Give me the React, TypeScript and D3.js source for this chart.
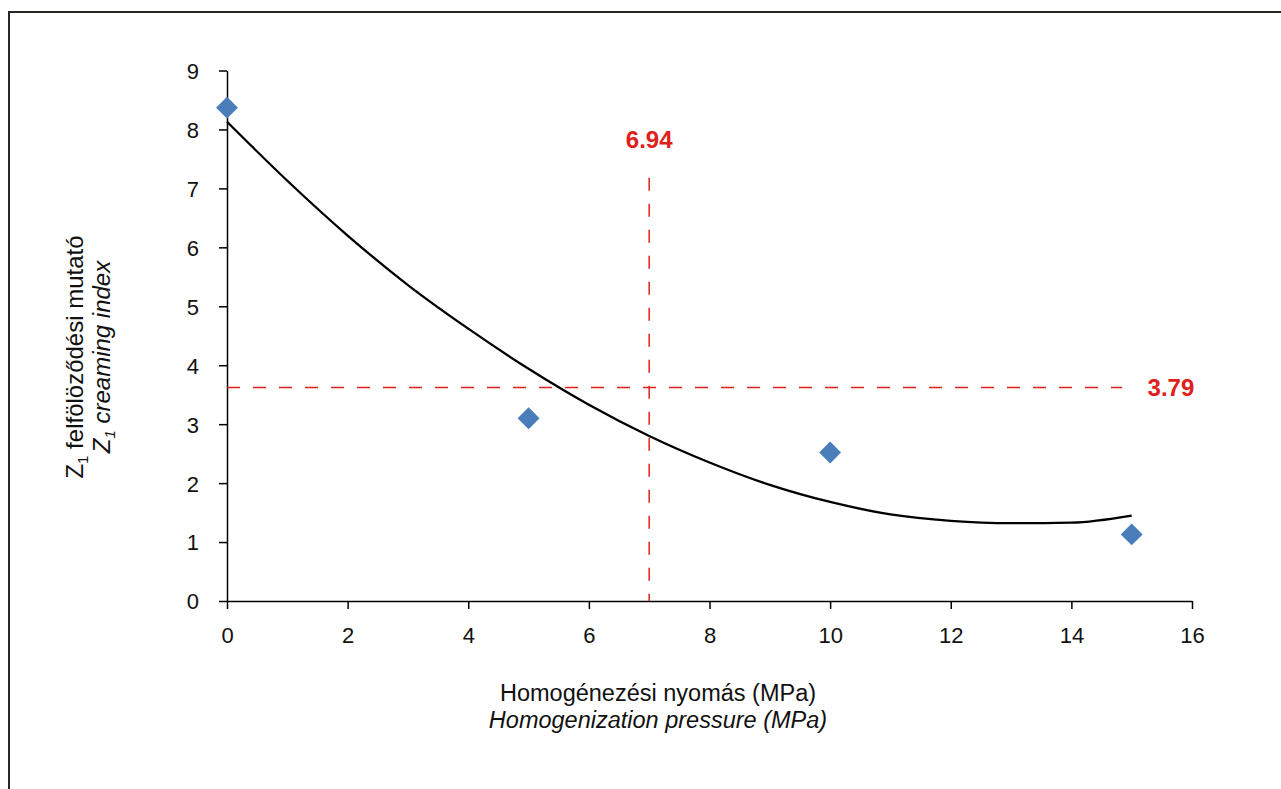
import React, { useEffect, useRef } from "react";
import * as d3 from "d3";

// measured points
const pressures = [0, 5, 10, 15];
const creaming = [8.37, 3.1, 2.52, 1.13];

// trend line
const trendX = [0, 1, 2, 3, 4, 5, 6, 7, 8, 9, 10, 11, 12, 13, 14, 15];
const trendY = [8.13, 7.13, 6.2, 5.36, 4.62, 3.94, 3.33, 2.8, 2.35, 1.97, 1.68, 1.47, 1.36, 1.32, 1.33, 1.45];

const xTicks = [0, 2, 4, 6, 8, 10, 12, 14, 16];
const yTicks = [0, 1, 2, 3, 4, 5, 6, 7, 8, 9];

// optimum marker lines
const markerX = 7;
const markerXTop = 7.18;
const markerY = 3.62;
const markerYEnd = 14.84;
const markerXLabel = "6.94";
const markerYLabel = "3.79";

const W = 1281;
const H = 789;
const RED = "#e0201b";
const FONT = "'Liberation Sans', Arial, Helvetica, sans-serif";

const App = () => {
  const ref = useRef<SVGSVGElement | null>(null);

  useEffect(() => {
    const svg = d3.select(ref.current);
    svg.selectAll("*").remove();

    const x = d3.scaleLinear().domain([0, 16]).range([227, 1192]);
    const y = d3.scaleLinear().domain([0, 9]).range([601, 70.5]);

    // frame (cropped at right and bottom)
    svg.append("path")
      .attr("d", `M9,${H} L9,12 L${W},12`)
      .attr("fill", "none")
      .attr("stroke", "#2a2623")
      .attr("stroke-width", 2);

    // axes
    const xAxis = svg.append("g")
      .attr("transform", `translate(0,${y(0)})`)
      .call(d3.axisBottom(x).tickValues(xTicks).tickSize(8).tickSizeOuter(0).tickPadding(18));
    const yAxis = svg.append("g")
      .attr("transform", `translate(${x(0)},0)`)
      .call(d3.axisLeft(y).tickValues(yTicks).tickSize(8).tickSizeOuter(0).tickPadding(20));

    [xAxis, yAxis].forEach((g) => {
      g.select(".domain").attr("stroke", "#000").attr("stroke-width", 1.5);
      g.selectAll(".tick line").attr("stroke", "#000").attr("stroke-width", 1.5);
      g.selectAll(".tick text")
        .attr("fill", "#111")
        .style("font-family", FONT)
        .style("font-size", "22px");
    });
    yAxis.selectAll(".tick text").attr("dy", "0.36em");

    // red dashed marker lines
    svg.append("line")
      .attr("x1", x(markerX)).attr("x2", x(markerX))
      .attr("y1", y(markerXTop)).attr("y2", y(0))
      .attr("stroke", RED).attr("stroke-width", 1.5)
      .attr("stroke-dasharray", "13,13");
    svg.append("line")
      .attr("x1", x(0)).attr("x2", x(markerYEnd))
      .attr("y1", y(markerY)).attr("y2", y(markerY))
      .attr("stroke", RED).attr("stroke-width", 1.5)
      .attr("stroke-dasharray", "13,13");

    svg.append("text")
      .attr("x", x(markerX)).attr("y", y(markerXTop) - 30)
      .attr("text-anchor", "middle")
      .attr("fill", RED)
      .style("font-family", FONT).style("font-size", "24px").style("font-weight", "bold")
      .text(markerXLabel);
    svg.append("text")
      .attr("x", x(15.65)).attr("y", y(markerY))
      .attr("dy", "0.36em")
      .attr("text-anchor", "middle")
      .attr("fill", RED)
      .style("font-family", FONT).style("font-size", "24px").style("font-weight", "bold")
      .text(markerYLabel);

    // trend line
    const line = d3.line<number>()
      .x((d, i) => x(trendX[i]))
      .y((d) => y(d))
      .curve(d3.curveMonotoneX);
    svg.append("path")
      .datum(trendY)
      .attr("fill", "none")
      .attr("stroke", "#000")
      .attr("stroke-width", 2.3)
      .attr("d", line);

    // diamonds
    const diamond = d3.symbol().type(d3.symbolSquare).size(240);
    svg.selectAll("path.pt")
      .data(creaming)
      .enter()
      .append("path")
      .attr("class", "pt")
      .attr("d", diamond)
      .attr("transform", (d, i) => `translate(${x(pressures[i])},${y(d)}) rotate(45)`)
      .attr("fill", "#4a7ebb");

    // axis titles
    const xt = svg.append("text")
      .attr("text-anchor", "middle")
      .attr("fill", "#111")
      .style("font-family", FONT).style("font-size", "23.5px");
    xt.append("tspan").attr("x", 658).attr("y", 701).text("Homogénezési nyomás (MPa)");
    xt.append("tspan").attr("x", 658).attr("y", 728).style("font-style", "italic")
      .text("Homogenization pressure (MPa)");

    const yt = svg.append("text")
      .attr("transform", "translate(0,357) rotate(-90)")
      .attr("text-anchor", "middle")
      .attr("fill", "#111")
      .style("font-family", FONT).style("font-size", "24px");
    const l1 = yt.append("tspan").attr("x", 0).attr("y", 83);
    l1.append("tspan").text("Z");
    l1.append("tspan").attr("dy", 5).style("font-size", "15px").text("1");
    l1.append("tspan").attr("dy", -5).text(" felfölöződési mutató");
    const l2 = yt.append("tspan").attr("x", 0).attr("y", 110).style("font-style", "italic");
    l2.append("tspan").text("Z");
    l2.append("tspan").attr("dy", 5).style("font-size", "15px").text("1");
    l2.append("tspan").attr("dy", -5).text(" creaming index");
  }, []);

  return (
    <svg
      ref={ref}
      width={W}
      height={H}
      style={{ position: "absolute", left: 0, top: 0, background: "#fff" }}
    />
  );
};

export default App;
